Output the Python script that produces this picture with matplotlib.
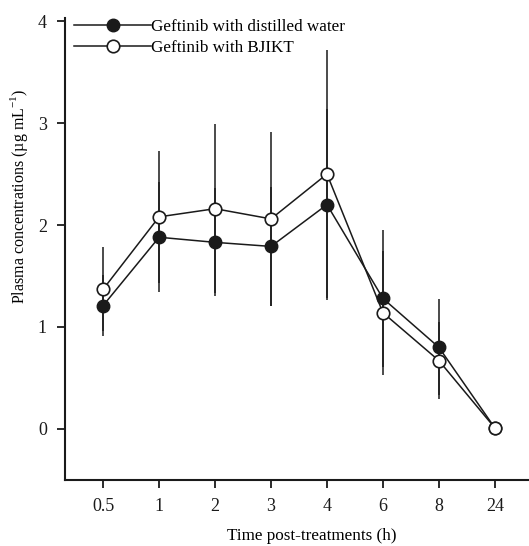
import matplotlib
matplotlib.use('Agg')
import matplotlib.pyplot as plt
import numpy as np

# Дані з графіка
time_labels = ['0.5', '1', '2', '3', '4', '6', '8', '24']
water_mean = [1.21, 1.88, 1.83, 1.79, 2.20, 1.28, 0.80, 0.01]
water_sd = [0.30, 0.54, 0.53, 0.58, 0.94, 0.67, 0.47, 0.0]
bjikt_mean = [1.37, 2.08, 2.16, 2.06, 2.50, 1.14, 0.67, 0.01]
bjikt_sd = [0.41, 0.65, 0.83, 0.85, 1.22, 0.61, 0.38, 0.0]

plt.rcParams['font.family'] = ['Liberation Serif', 'DejaVu Serif']
plt.rcParams['mathtext.fontset'] = 'custom'
plt.rcParams['mathtext.rm'] = 'Liberation Serif'

fig = plt.figure(figsize=(5.29, 5.46), dpi=100)
ax = fig.add_axes([0.123, 0.121, 0.877, 0.846])

x = np.arange(len(time_labels))

# Планки похибок
ax.errorbar(x, water_mean, yerr=water_sd, fmt='none', ecolor='#1a1a1a',
            elinewidth=1.1, capsize=0, zorder=1)
ax.errorbar(x, bjikt_mean, yerr=bjikt_sd, fmt='none', ecolor='#1a1a1a',
            elinewidth=1.1, capsize=0, zorder=1)

# Лінії з маркерами
ax.plot(x, water_mean, '-o', color='#1a1a1a', lw=1.1, markersize=9,
        markerfacecolor='#1a1a1a', markeredgecolor='#1a1a1a',
        label='Geftinib with distilled water', zorder=3)
ax.plot(x, bjikt_mean, '-o', color='#1a1a1a', lw=1.1, markersize=9,
        markerfacecolor='white', markeredgecolor='#1a1a1a', markeredgewidth=1.2,
        label='Geftinib with BJIKT', zorder=4)

ax.set_xlim(-0.68, 7.61)
ax.set_ylim(-0.5, 4.03)
ax.set_xticks(x)
ax.set_xticklabels(time_labels)
ax.set_yticks([0, 1, 2, 3, 4])

for side in ['top', 'right']:
    ax.spines[side].set_visible(False)
for side in ['left', 'bottom']:
    ax.spines[side].set_linewidth(1.5)
    ax.spines[side].set_color('#1a1a1a')

ax.tick_params(axis='both', direction='out', length=6, width=1.3,
               labelsize=13, colors='#1a1a1a', pad=7)

ax.set_xlabel('Time post-treatments (h)', fontsize=12.3)
ax.xaxis.set_label_coords(0.532, -0.105)
ax.set_ylabel('Plasma concentrations (µg mL$^{-1}$)', fontsize=11.5)
ax.yaxis.set_label_coords(-0.075, 0.615)

ax.legend(loc='upper left', bbox_to_anchor=(0.005, 1.012), frameon=False,
          fontsize=12.3, handlelength=4.5, handletextpad=0.0,
          labelspacing=0.25, borderaxespad=0.0)

plt.savefig('out.png', dpi=100)
